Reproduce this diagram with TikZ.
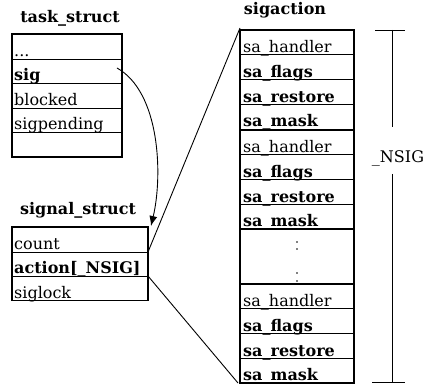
\documentclass[tikz,border=0pt]{standalone}
\usepackage{fontspec}
\setmainfont{DejaVu Serif}
\usetikzlibrary{arrows.meta}
\begin{document}
\begin{tikzpicture}[x=1pt,y=-1pt,
  field/.style={anchor=base west,inner sep=0pt,font=\fontsize{16}{19}\selectfont},
  bfield/.style={field,font=\fontsize{16}{19}\selectfont\bfseries},
  title/.style={anchor=base,inner sep=0pt,font=\fontsize{16}{19}\selectfont\bfseries},
  frame/.style={line width=1.4pt},
  rule/.style={line width=0.8pt},
  heavy/.style={line width=1.9pt},
  link/.style={line width=0.9pt}]
\useasboundingbox (0,0) rectangle (434,387);

% ---- task_struct ----
\node[title] (ttitle) at (70,23) {task\_struct};
\foreach \y in {59,83,108,132} \draw[rule] (12,\y) -- (122,\y);
\draw[frame] (12,34) rectangle (122,157);
\node[field] (tdots) at (14,57) {...};
\node[bfield] (tsig) at (14,81) {sig};
\node[field] (tblocked) at (14,106) {blocked};
\node[field] (tpending) at (14,130) {sigpending};

% ---- signal_struct ----
\node[title] (stitle) at (78,215) {signal\_struct};
\foreach \y in {252,276} \draw[rule] (12,\y) -- (148,\y);
\draw[frame] (12,227) rectangle (148,300.5);
\node[field] (scount) at (14,250) {count};
\node[bfield] (saction) at (14,274) {action[\_NSIG]};
\node[field] (slock) at (14,298.5) {siglock};

% ---- sigaction array ----
\node[title] (atitle) at (285,15) {sigaction};
\foreach \y/\g in {30/a,130/b,284/c} {
  \foreach \d in {24.7,49.4,74.1} \draw[rule] (240,\y+\d) -- (354,\y+\d);
  \node[field] (h\g) at (243,\y+22.7) {sa\_handler};
  \node[bfield] (f\g) at (243,\y+47.4) {sa\_flags};
  \node[bfield] (r\g) at (243,\y+72.1) {sa\_restore};
  \node[bfield] (m\g) at (243,\y+96.8) {sa\_mask};
}
\foreach \y in {130,229,284} \draw[heavy] (240,\y) -- (354,\y);
\draw[heavy] (240,30) rectangle (354,383);
% elided entries
\foreach \y in {242,249,273,281} \fill (297,\y) circle (0.9);

% ---- _NSIG span ----
\node[anchor=base,inner sep=0pt,font=\fontsize{16}{19}\selectfont] (nsig) at (398,163) {\_NSIG};
\coordinate (btop) at (392,30);
\coordinate (bbot) at (392,382);
\draw[rule] (375,30) -- (405,30);
\draw[rule] (372,382) -- (405,382);
\draw[rule] (btop) -- (392,127);
\draw[rule] (392,174) -- (bbot);

% ---- pointers ----
\coordinate (sigref) at (117,68);
\coordinate (sstop) at (151,226);
\coordinate (actA) at (148,252);
\coordinate (actB) at (148,276);
\coordinate (arrTop) at (240,28);
\coordinate (arrBot) at (238,383);
\draw[link,-{Latex[length=10pt,width=8pt]}] (sigref) .. controls (160,92) and (163,175) .. (sstop);
\draw[link] (actA) -- (arrTop);
\draw[link] (actB) -- (arrBot);
\end{tikzpicture}
\end{document}
